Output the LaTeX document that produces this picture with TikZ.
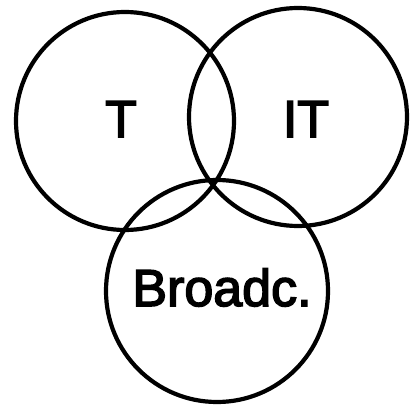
\documentclass[tikz,border=0pt]{standalone}
\usepackage{fontspec}
\newfontfamily\lblfont[FakeBold=3]{Liberation Sans}
\begin{document}
\begin{tikzpicture}[x=1pt,y=1pt,
  ring/.style={draw=black,line width=4.2pt,circle,inner sep=0pt,minimum size=#1},
  lbl/.style={anchor=base,inner sep=0pt,font=\lblfont\fontsize{52}{52}\selectfont}]
\useasboundingbox (0,0) rectangle (410,-406);
\node[ring=218pt] (left) at (125,-121) {};
\node[ring=218pt] (right) at (298,-117) {};
\node[ring=222pt] (bottom) at (217,-291) {};
\node[lbl] (t) at (121,-137) {T};
\node[lbl] (it) at (306,-137) {IT};
\node[lbl] (b) at (222,-306) {Broadc.};
\end{tikzpicture}
\end{document}
